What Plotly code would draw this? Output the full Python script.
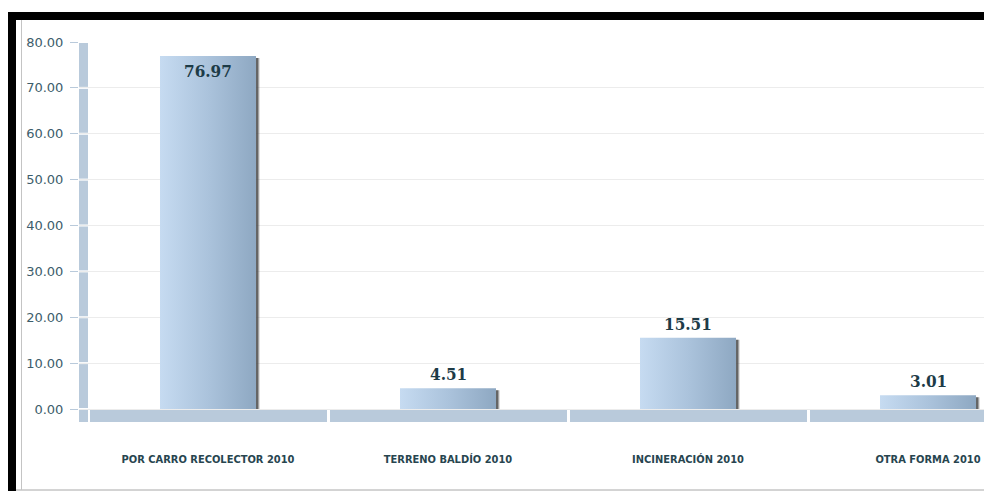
import plotly.graph_objects as go

# Waste disposal shares (%), 2010
categories = ["POR CARRO RECOLECTOR 2010", "TERRENO BALDÍO 2010",
              "INCINERACIÓN 2010", "OTRA FORMA 2010"]
values = [76.97, 4.51, 15.51, 3.01]
y_ticks = [0, 10, 20, 30, 40, 50, 60, 70, 80]

W, H = 984, 491
L, R, T, B = 79, 984, 42, 422          # plot area in pixels
Y_MIN, Y_MAX = -2.834, 80
X_MIN, X_MAX = -0.5375, 3.2333
BAR_HALF = 0.2
px_per_x = (R - L) / (X_MAX - X_MIN)
px_per_y = (B - T) / (Y_MAX - Y_MIN)


def xp(px):
    return (px - L) / (R - L)


def yp(py):
    return (B - py) / (B - T)


fig = go.Figure()

# bars with a soft drop shadow on the right side
for i, v in enumerate(values):
    for off, col in ((4, "rgba(0,0,0,0.12)"), (2.5, "rgba(70,70,70,0.8)")):
        dx = off / px_per_x
        fig.add_trace(go.Scatter(
            x=[i - BAR_HALF + dx, i + BAR_HALF + dx, i + BAR_HALF + dx, i - BAR_HALF + dx, i - BAR_HALF + dx],
            y=[0, 0, v - 2 / px_per_y, v - 2 / px_per_y, 0],
            mode="lines", fill="toself", fillcolor=col, line=dict(width=0),
            hoverinfo="skip", showlegend=False))
    fig.add_trace(go.Scatter(
        x=[i - BAR_HALF, i + BAR_HALF, i + BAR_HALF, i - BAR_HALF, i - BAR_HALF],
        y=[0, 0, v, v, 0],
        mode="lines", fill="toself", line=dict(width=0),
        fillgradient=dict(type="horizontal",
                          colorscale=[[0, "#c6dbf1"], [0.5, "#abc3dc"], [1, "#8ea8c2"]]),
        name=categories[i], showlegend=False))

# value labels
label_font = dict(family="DejaVu Serif Condensed, DejaVu Serif", size=17,
                  color="#1d3b47", weight="bold")
annotations = []
for i, v in enumerate(values):
    inside = v > 50
    annotations.append(dict(
        x=i, y=v, xref="x", yref="y", text=f"{v:.2f}", showarrow=False,
        yanchor="top" if inside else "bottom", yshift=-3 if inside else 2,
        font=label_font))

shapes = []
# segmented axis bar on the left
seg_edges = [Y_MIN] + y_ticks
gap = 1.0 / px_per_y
for a, b in zip(seg_edges[:-1], seg_edges[1:]):
    shapes.append(dict(type="rect", xref="paper", yref="y", layer="below",
                       x0=0, x1=xp(88), y0=a + (gap if a != Y_MIN else 0),
                       y1=b - gap, fillcolor="#b9cadb", line=dict(width=0)))
# base plate under each category
for i in range(len(categories)):
    shapes.append(dict(type="rect", xref="x", yref="y", layer="below",
                       x0=i - 0.5 + 2 / px_per_x, x1=i + 0.5 - 1 / px_per_x,
                       y0=Y_MIN, y1=-1 / px_per_y,
                       fillcolor="#b9cadb", line=dict(width=0)))
# frame
shapes += [
    dict(type="rect", xref="paper", yref="paper", x0=xp(8), x1=xp(984),
         y0=yp(12), y1=yp(20), fillcolor="#000000", line=dict(width=0)),
    dict(type="rect", xref="paper", yref="paper", x0=xp(8), x1=xp(16),
         y0=yp(12), y1=yp(491), fillcolor="#000000", line=dict(width=0)),
    dict(type="line", xref="paper", yref="paper", x0=xp(16), x1=xp(984),
         y0=yp(490), y1=yp(490), line=dict(color="#a8a8a8", width=1)),
    dict(type="line", xref="paper", yref="paper", x0=xp(21.5), x1=xp(21.5),
         y0=yp(20), y1=yp(490), line=dict(color="#c4c4c4", width=1)),
]

fig.update_layout(
    width=W, height=H,
    margin=dict(l=L, r=W - R, t=T, b=H - B, autoexpand=False),
    paper_bgcolor="#ffffff", plot_bgcolor="#ffffff",
    shapes=shapes, annotations=annotations,
    xaxis=dict(range=[X_MIN, X_MAX], tickvals=list(range(len(categories))),
               ticktext=categories, showgrid=False, zeroline=False,
               showline=False, ticks="", ticklabelstandoff=29,
               tickfont=dict(family="DejaVu Sans Condensed, DejaVu Sans", size=11,
                             color="#27454f", weight="bold"),
               fixedrange=True, automargin=False),
    yaxis=dict(range=[Y_MIN, Y_MAX], tickvals=y_ticks,
               ticktext=[f"{t:.2f}" for t in y_ticks],
               showgrid=True, gridcolor="#ececec", gridwidth=1, zeroline=False,
               showline=False, ticks="outside", ticklen=8, tickcolor="#b9cadb",
               tickwidth=1, ticklabelstandoff=4,
               tickfont=dict(family="DejaVu Sans", size=13, color="#3d5d6b"),
               fixedrange=True, automargin=False),
)

fig.write_html("out.html")
